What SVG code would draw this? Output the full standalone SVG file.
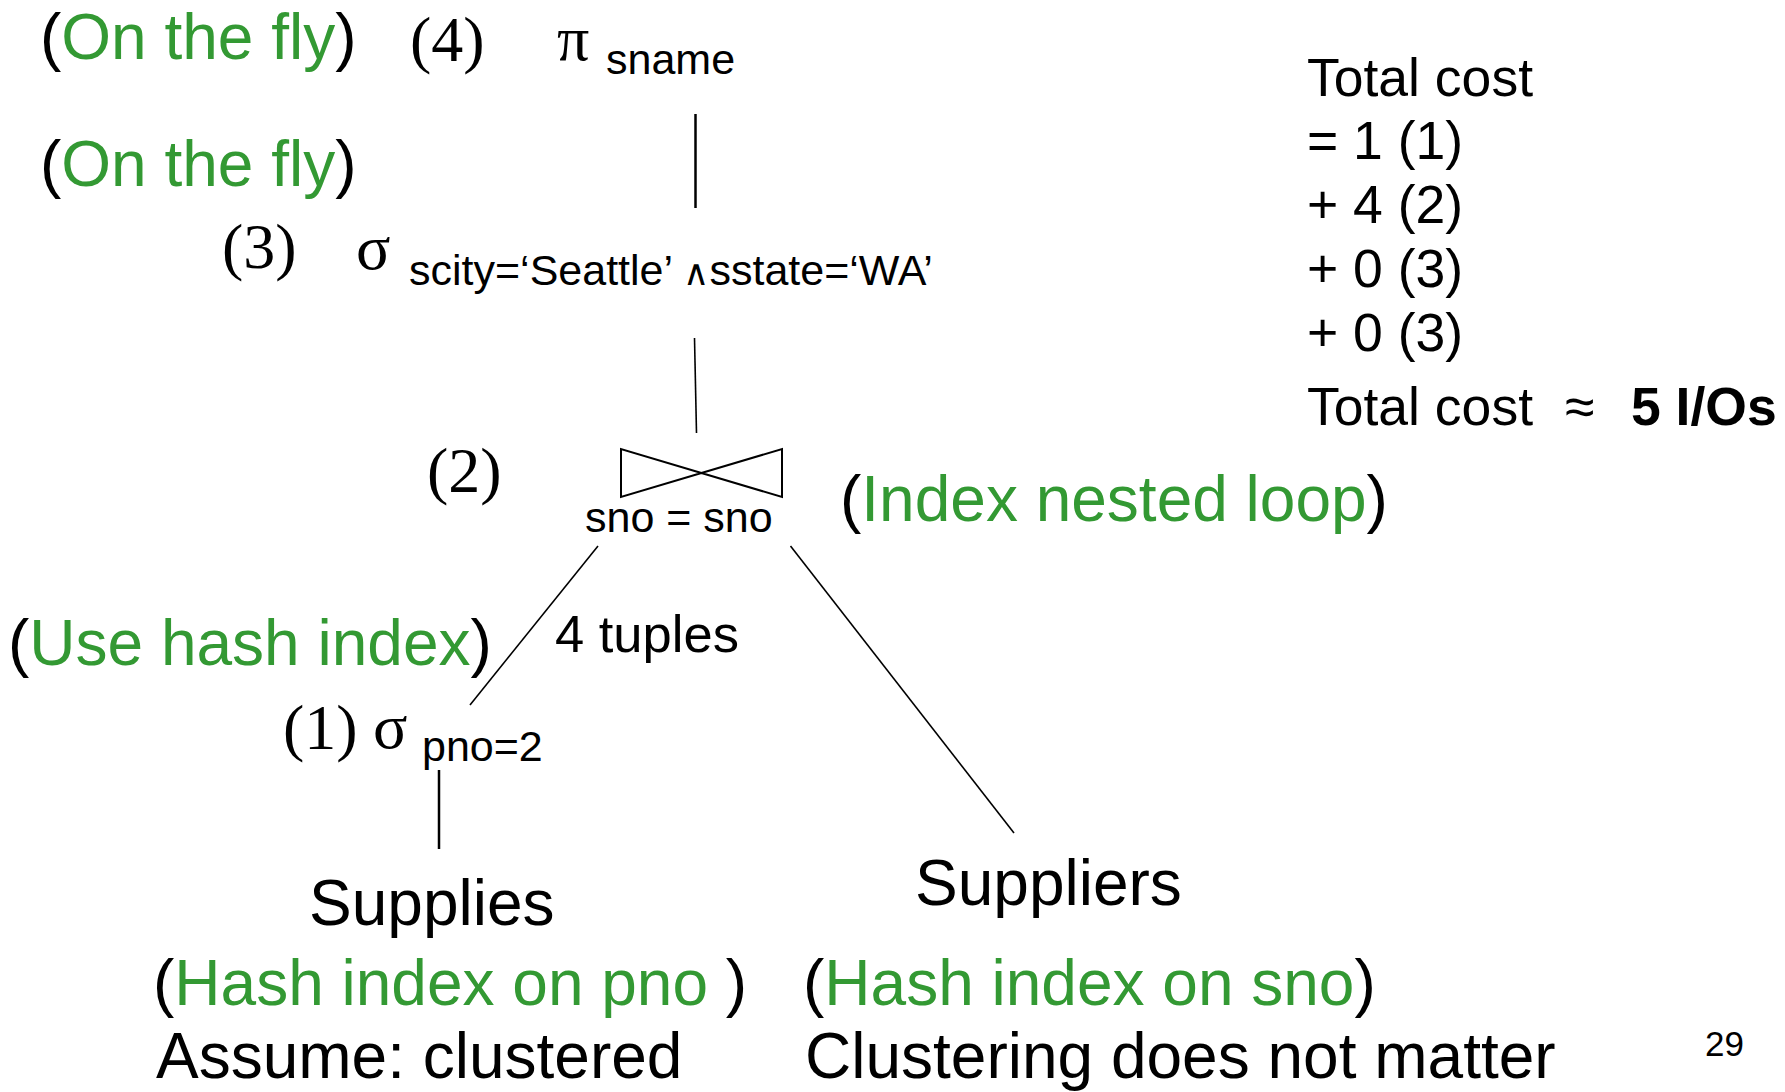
<svg xmlns="http://www.w3.org/2000/svg" width="1785" height="1092" viewBox="0 0 1785 1092">
<style>
text{font-family:"Liberation Sans",Arial,sans-serif;fill:#000}
.big{font-size:64px}
.sub{font-size:43px}
.serif{font-family:"Liberation Serif","Times New Roman",serif;font-size:64px}
.g{fill:#339933}
.cost{font-size:53.5px}
.num{font-size:35px}
.edge{stroke:#000;fill:none;stroke-width:1.6}
.stem{stroke:#000;fill:none;stroke-width:2.5}
.bow{stroke:#000;fill:none;stroke-width:2}
.and{font-family:"DejaVu Sans",sans-serif;font-size:36px;font-weight:300}
</style>
<rect width="1785" height="1092" fill="#fff"/>

<g id="connectors">
  <line class="stem" x1="695.5" y1="114" x2="695.5" y2="208"/>
  <line class="edge" x1="694.5" y1="338" x2="696.5" y2="433"/>
  <line class="edge" x1="598" y1="546" x2="470" y2="705"/>
  <line class="edge" x1="790.5" y1="546" x2="1014" y2="833"/>
  <line class="stem" x1="439" y1="770" x2="439" y2="849"/>
</g>

<g id="node-project">
  <text class="big" x="40" y="59">(<tspan class="g">On the fly</tspan>)</text>
  <text class="serif" x="410" y="61">(4)</text>
  <text class="serif" x="557" y="60">π</text>
  <text class="sub" x="606" y="74">sname</text>
</g>

<g id="node-select-city">
  <text class="big" x="40" y="186">(<tspan class="g">On the fly</tspan>)</text>
  <text class="serif" x="222" y="268">(3)</text>
  <text class="serif" x="356" y="269">σ</text>
  <text class="sub" x="409" y="285">scity=‘Seattle’ <tspan class="and">∧</tspan>sstate=‘WA’</text>
</g>

<g id="node-join">
  <text class="serif" x="427" y="492">(2)</text>
  <path class="bow" d="M621,449 L621,497 L782,449 L782,497 Z"/>
  <text class="sub" x="585" y="532">sno = sno</text>
  <text class="big" x="840" y="521">(<tspan class="g">Index nested loop</tspan>)</text>
  <text style="font-size:52.5px" x="555" y="652">4 tuples</text>
</g>

<g id="node-select-pno">
  <text class="big" x="8" y="665">(<tspan class="g">Use hash index</tspan>)</text>
  <text class="serif" x="283" y="749">(1)</text>
  <text class="serif" x="373" y="748">σ</text>
  <text class="sub" x="422" y="761">pno=2</text>
</g>

<g id="node-supplies">
  <text class="big" x="309" y="925">Supplies</text>
  <text class="big" x="153" y="1005">(<tspan class="g">Hash index on pno </tspan>)</text>
  <text class="big" x="156" y="1078">Assume: clustered</text>
</g>

<g id="node-suppliers">
  <text class="big" x="915" y="905">Suppliers</text>
  <text class="big" x="803" y="1005">(<tspan class="g">Hash index on sno</tspan>)</text>
  <text class="big" x="805" y="1078">Clustering does not matter</text>
</g>

<g id="node-cost">
  <text class="cost" x="1307" y="96">Total cost</text>
  <text class="cost" x="1307" y="159">= 1 (1)</text>
  <text class="cost" x="1307" y="223">+ 4 (2)</text>
  <text class="cost" x="1307" y="287">+ 0 (3)</text>
  <text class="cost" x="1307" y="351">+ 0 (3)</text>
  <text class="cost" x="1307" y="425">Total cost<tspan x="1565">≈</tspan><tspan x="1631" font-weight="bold">5 I/Os</tspan></text>
</g>

<g id="page-number">
  <text class="num" x="1705" y="1056">29</text>
</g>
</svg>
